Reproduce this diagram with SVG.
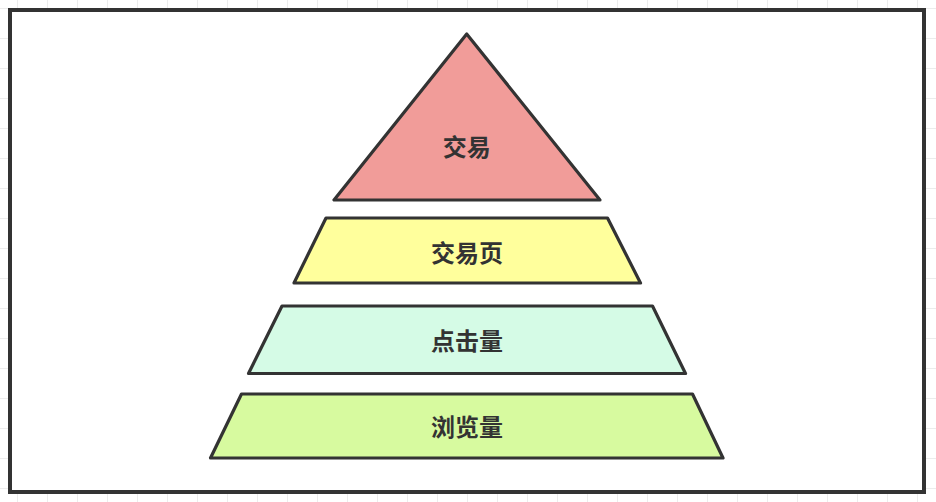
<svg xmlns="http://www.w3.org/2000/svg" width="936" height="502" viewBox="0 0 936 502">
  <defs>
    <pattern id="grid" x="17" y="8" width="30" height="30" patternUnits="userSpaceOnUse">
      <path d="M0.5 0 V30 M0 0.5 H30" fill="none" stroke="#ececec" stroke-width="1"/>
    </pattern>
  </defs>
  <style>
    .shape { stroke: #333333; stroke-width: 3.2; stroke-linejoin: round; }
    .label { font-family: "Noto Sans CJK SC", "Noto Sans", sans-serif; font-size: 24px; font-weight: bold; fill: #333333; text-anchor: middle; }
  </style>
  <rect x="0" y="0" width="936" height="502" fill="#ffffff"/>
  <rect x="0" y="0" width="936" height="502" fill="url(#grid)"/>
  <rect id="frame" x="10" y="10" width="914" height="482" fill="#ffffff" stroke="#333333" stroke-width="4"/>
  <g id="connectors"></g>
  <g id="node-trade">
    <polygon class="shape" points="466.7,34 334,200 600,200" fill="#f19c99"/>
    <text class="label" x="466.7" y="155.5">交易</text>
  </g>
  <g id="node-trade-page">
    <polygon class="shape" points="326,218 607.5,218 640.5,283 294,283" fill="#ffff9c"/>
    <text class="label" x="467" y="261.5">交易页</text>
  </g>
  <g id="node-clicks">
    <polygon class="shape" points="282,306 652.5,306 685.5,373.5 248.5,373.5" fill="#d5fbe6"/>
    <text class="label" x="467" y="350">点击量</text>
  </g>
  <g id="node-views">
    <polygon class="shape" points="241.5,394 692.5,394 723,458 210.5,458" fill="#d7fa9f"/>
    <text class="label" x="467" y="435.5">浏览量</text>
  </g>
</svg>
